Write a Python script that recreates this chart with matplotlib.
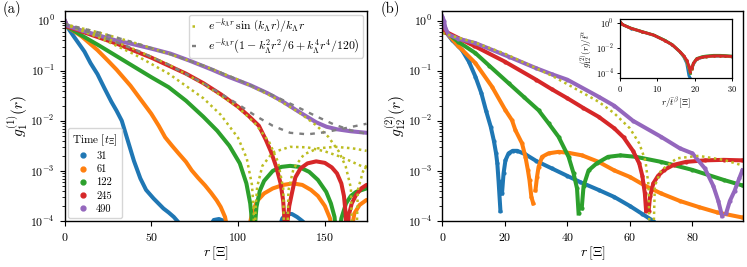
import numpy as np
import matplotlib.pyplot as plt
from matplotlib.lines import Line2D

plt.rcParams['font.family'] = 'serif'
plt.rcParams['font.serif'] = ['cmr10']
plt.rcParams['mathtext.fontset'] = 'cm'
plt.rcParams['axes.formatter.use_mathtext'] = True

times = [31, 61, 122, 245, 490]
colors = ['#1f77b4', '#ff7f0e', '#2ca02c', '#d62728', '#9467bd']
nan = np.nan

# ---- panel (a): g1 data, values are log10 g ----
a_r_31 = [0, 1.5, 5, 11.5, 15, 19, 23, 27, 30, 33, 36.5, 40, 43.7, 47, 51.3, 57, 60, 63, 65.5, 68,
          nan, 84, 86, 89, 92, 94, nan, 123, 125.5, 128, 131, 134, 137, 140]
a_lg_31 = [0.0, -0.12, -0.3, -0.62, -0.85, -1.07, -1.35, -1.62, -1.8, -2.0, -2.4, -2.8, -3.15, -3.38, -3.55, -3.75, -3.83, -3.92, -4.02, -4.2,
           nan, -4.1, -3.98, -3.96, -4.0, -4.1, nan, -4.2, -3.95, -3.86, -3.86, -3.92, -4.0, -4.1]
a_r_61 = [0, 1.5, 10, 19, 25, 30, 38, 44, 50, 54.3, 58, 62, 65.7, 70, 73.3, 77, 81, 84.5, 87.7, 90, 92.5, 93.8, 94.5,
          105.5, 106.3, 108, 111, 115, 120, 126, 131.6, 137, 142, 146, 150, 153, 154.5, 156, 160, 164.5, 165.3, 167, 170, 174]
a_lg_61 = [0.0, -0.12, -0.32, -0.59, -0.8, -0.98, -1.3, -1.58, -1.86, -2.1, -2.33, -2.5, -2.65, -2.82, -2.99, -3.14, -3.29, -3.44, -3.59, -3.72, -3.92, -4.15, -5,
           -5, -4.15, -3.85, -3.6, -3.45, -3.35, -3.28, -3.25, -3.28, -3.38, -3.5, -3.7, -3.95, -4.3, -5, -5, -5, -4.2, -3.85, -3.68, -3.58]
a_r_122 = [0, 1.5, 10, 20, 30, 40, 50, 60, 70, 80, 88, 95, 101, 104.8, 107, 108.3, 109, 109.7, 110.6, 112.5, 115, 120, 125, 130,
           135, 141, 146, 150.8, 153.5, 155.6, 156.5, 157.2, 158, 159.5, 162.2, 165, 168, 174]
a_lg_122 = [0.0, -0.12, -0.3, -0.5, -0.71, -0.92, -1.13, -1.33, -1.6, -1.92, -2.2, -2.5, -2.85, -3.25, -3.65, -4.1, -5, -4.1, -3.72, -3.4, -3.2, -3.0, -2.92, -2.9,
            -2.92, -3.02, -3.18, -3.42, -3.65, -3.92, -4.3, -5, -4.3, -3.95, -3.65, -3.5, -3.42, -3.35]
a_r_245 = [0, 1.5, 10, 20, 30, 40, 50, 60, 70, 80, 90, 100, 106, 112, 116, 119, 122, 124.5, 126, 127, 127.5, 128.2, 129.5, 131, 133,
           136, 140, 145, 150, 154, 157, 159.5, 161, 162, 162.7, 163.7, 165.5, 168, 171, 174]
a_lg_245 = [0.0, -0.12, -0.22, -0.34, -0.46, -0.6, -0.74, -0.9, -1.06, -1.25, -1.47, -1.72, -1.9, -2.1, -2.38, -2.62, -2.92, -3.25, -3.6, -4.1, -5, -4.1, -3.7, -3.45, -3.13,
            -2.95, -2.85, -2.81, -2.84, -2.93, -3.05, -3.25, -3.5, -3.85, -5, -3.9, -3.65, -3.48, -3.35, -3.28]
a_r_490 = [0, 1.5, 4, 10, 19, 30, 38, 50, 61, 72, 85, 95, 107, 117, 125, 135, 145, 151, 157, 165, 174]
a_lg_490 = [0.02, -0.1, -0.13, -0.2, -0.29, -0.4, -0.46, -0.56, -0.66, -0.8, -0.98, -1.13, -1.29, -1.45, -1.6, -1.82, -2.03, -2.12, -2.17, -2.21, -2.24]

# sinc fits (dotted) for 122, 245, 490
fit_r_122 = [0, 20, 40, 60, 80, 90, 100, 105, 108, 109, 109.5, 110, 111, 114, 120, 130, 140, 150, 160, 174]
fit_lg_122 = [-0.07, -0.34, -0.67, -1.06, -1.55, -1.88, -2.34, -2.75, -3.28, -3.77, -6, -3.78, -3.32, -2.9, -2.63, -2.52, -2.53, -2.61, -2.73, -2.95]
fit_r_245 = [0, 20, 40, 60, 80, 100, 110, 118, 123, 126, 127.5, 129, 132, 138, 146, 156, 166, 174]
fit_lg_245 = [-0.07, -0.3, -0.57, -0.88, -1.26, -1.73, -2.06, -2.43, -2.82, -3.34, -6, -3.39, -2.95, -2.67, -2.55, -2.52, -2.55, -2.6]
fit_r_490 = [0, 20, 40, 60, 80, 100, 120, 135, 145, 152, 158, 162, 165, 167, 169, 172, 174]
fit_lg_490 = [-0.07, -0.24, -0.44, -0.66, -0.9, -1.18, -1.52, -1.83, -2.09, -2.32, -2.61, -2.91, -3.34, -6, -3.38, -3.01, -2.89]
# polynomial fits (dashed) for 245, 490
poly_r_245 = [0, 20, 40, 60, 80, 100, 110, 120, 130, 140, 150, 160, 174]
poly_lg_245 = [-0.07, -0.3, -0.57, -0.88, -1.25, -1.67, -1.9, -2.1, -2.24, -2.27, -2.23, -2.16, -2.06]
poly_r_490 = [0, 20, 40, 60, 80, 100, 120, 135, 145, 155, 165, 174]
poly_lg_490 = [-0.07, -0.24, -0.44, -0.66, -0.9, -1.18, -1.49, -1.74, -1.91, -2.07, -2.19, -2.26]

# ---- panel (b): g12 data ----
b_r_31 = [0, 1, 3, 6.3, 8.5, 10.6, 12.5, 14.0, 15.5, 16.5, 17.2, 17.6, 18.0, 18.6, nan,
          19.1, 19.6, 20.2, 21.2, 22.5, 24, 26.6, 30, 35, 40, 44, 50, 55, 60, 64, 67.5, 69]
b_lg_31 = [-0.05, -0.22, -0.38, -0.59, -0.82, -1.12, -1.45, -1.8, -2.12, -2.4, -2.65, -2.85, -3.2, -3.8, nan,
           -3.45, -3.05, -2.79, -2.65, -2.6, -2.6, -2.67, -2.8, -2.95, -3.1, -3.22, -3.38, -3.52, -3.7, -3.86, -4.0, -4.1]
b_r_61 = [0, 1, 5, 10.6, 15.9, 20.2, 22.3, 23.4, 25.5, 26.6, 27.4, 27.9, 28.5, 29.1, nan,
          29.8, 30.3, 30.8, 31.9, 34, 37.2, 40.4, 44.7, 50, 55, 60, 65, 70, 76, 82, 88, 96]
b_lg_61 = [-0.05, -0.22, -0.5, -0.85, -1.32, -1.79, -1.99, -2.19, -2.45, -2.72, -2.99, -3.19, -3.52, -3.65, nan,
           -3.39, -3.12, -2.92, -2.72, -2.65, -2.62, -2.64, -2.69, -2.82, -2.99, -3.12, -3.3, -3.45, -3.6, -3.72, -3.83, -3.93]
b_r_122 = [0, 1, 5, 10.6, 15, 21.2, 26, 30.8, 34, 37.2, 40.4, 42, 43.1, 43.6, nan,
           44.6, 45.2, 46.8, 49.4, 53, 57, 62, 70, 80, 90, 96]
b_lg_122 = [-0.05, -0.22, -0.42, -0.65, -0.9, -1.25, -1.52, -1.79, -2.05, -2.32, -2.72, -3.05, -3.35, -3.85, nan,
            -3.75, -3.3, -2.99, -2.85, -2.72, -2.69, -2.72, -2.82, -2.98, -3.18, -3.29]
b_r_245 = [0, 1, 10, 20, 30, 35, 40, 45, 50, 55, 58, 61, 63, 64, 64.8, 65.2, nan,
           66.0, 66.5, 67.5, 69, 71, 74, 78, 84, 90, 96]
b_lg_245 = [-0.05, -0.22, -0.5, -0.82, -1.18, -1.37, -1.55, -1.74, -1.92, -2.15, -2.33, -2.6, -2.85, -3.1, -3.45, -3.8, nan,
            -3.8, -3.5, -3.25, -3.1, -2.98, -2.88, -2.82, -2.79, -2.78, -2.79]
b_r_490 = [0, 0.5, 1, 2, 5, 10.6, 21.2, 30, 35, 40, 50, 55, 61, 70, 76, 80, 84, 86.7, 88.3, 89.5, nan,
           90.8, 92, 93.5, 95, 96]
b_lg_490 = [0.08, 0.0, -0.15, -0.28, -0.36, -0.45, -0.72, -0.95, -1.07, -1.18, -1.52, -1.7, -2.0, -2.32, -2.55, -2.65, -2.95, -3.3, -3.6, -3.9, nan,
            -3.85, -3.6, -3.4, -3.15, -2.99]
bfit_r = [0, 10, 20, 30, 35, 40, 50, 55, 60, 63, 65, 66, 66.8, 68, 70, 75, 82, 90, 96]
bfit_lg = [-0.25, -0.43, -0.66, -0.95, -1.1, -1.27, -1.62, -1.85, -2.15, -2.45, -2.8, -3.3, -6, -3.3, -2.99, -2.75, -2.7, -2.78, -2.89]

# ---- inset: rescaled g12 ----
ins_x = [0, 0.5, 1, 3, 6, 9, 12, 14, 16, 17, 17.8, 18.4, 18.8, nan, 19.2, 19.6, 20.5, 22, 23.1, 25, 26.7, 28, 30]
ins_lg_31 = [0.08, -0.1, -0.2, -0.47, -0.74, -1.0, -1.42, -1.78, -2.32, -2.7, -3.2, -4.2, -4.4, nan, -3.7, -3.3, -2.9, -2.75, -2.7, -2.66, -2.65, -2.66, -2.7]
ins_lg_61 = [0.08, -0.1, -0.2, -0.46, -0.73, -0.99, -1.41, -1.76, -2.3, -2.65, -3.05, -3.6, -4.0, nan, -3.65, -3.25, -2.87, -2.73, -2.68, -2.63, -2.63, -2.64, -2.68]
ins_lg_122 = [0.08, -0.1, -0.19, -0.44, -0.71, -0.97, -1.39, -1.74, -2.28, -2.62, -3.0, -3.5, -4.0, nan, -3.6, -3.2, -2.83, -2.68, -2.63, -2.58, -2.58, -2.6, -2.64]
ins_lg_245 = [0.08, -0.1, -0.2, -0.45, -0.72, -0.98, -1.42, -1.75, -2.29, -2.6, -2.95, -3.4, -3.9, nan, -3.6, -3.21, -2.85, -2.72, -2.67, -2.62, -2.62, -2.63, -2.67]


def val(lg):
    return 10.0 ** np.array(lg, dtype=float)


fig = plt.figure(figsize=(7.47, 2.67), dpi=100)
ax1 = fig.add_axes([64.5 / 747, 46 / 267, 302 / 747, 210 / 267])
ax2 = fig.add_axes([442.3 / 747, 46 / 267, 301 / 747, 210 / 267])
axin = fig.add_axes([620 / 747, (267 - 77.7) / 267, 112.3 / 747, 58.7 / 267])

lw_data = 2.9
a_sets = [(a_r_31, a_lg_31), (a_r_61, a_lg_61), (a_r_122, a_lg_122), (a_r_245, a_lg_245), (a_r_490, a_lg_490)]
for (r, lg), c in zip(a_sets, colors):
    ax1.plot(r, val(lg), color=c, lw=lw_data, solid_capstyle='round')

olive = '#bcbd22'
gray = '#7f7f7f'
dot = (0, (1, 1.4))
dash = (0, (2, 2.6))
for r, lg in [(fit_r_122, fit_lg_122), (fit_r_245, fit_lg_245), (fit_r_490, fit_lg_490)]:
    ax1.plot(r, val(lg), color=olive, lw=1.8, ls=dot)
for r, lg in [(poly_r_245, poly_lg_245), (poly_r_490, poly_lg_490)]:
    ax1.plot(r, val(lg), color=gray, lw=1.7, ls=dash)

b_sets = [(b_r_31, b_lg_31), (b_r_61, b_lg_61), (b_r_122, b_lg_122), (b_r_245, b_lg_245), (b_r_490, b_lg_490)]
for (r, lg), c in zip(b_sets, colors):
    ax2.plot(r, val(lg), color=c, lw=lw_data, marker='o', ms=3, mew=0)
ax2.plot(bfit_r, val(bfit_lg), color=olive, lw=1.8, ls=dot)

for lg, c in zip([ins_lg_31, ins_lg_61, ins_lg_122, ins_lg_245], colors):
    axin.plot(ins_x, val(lg), color=c, lw=2.0, marker='o', ms=1.8, mew=0)

for ax, xmax in [(ax1, 174), (ax2, 96.3)]:
    ax.set_yscale('log')
    ax.set_ylim(1e-4, 1.55)
    ax.set_xlim(0, xmax)
    ax.tick_params(labelsize=8.5, length=3.5, width=0.8)
    ax.tick_params(which='minor', length=2, width=0.6)
    ax.set_xlabel(r'$r\,[\Xi]$', fontsize=10, labelpad=1)
    for s in ax.spines.values():
        s.set_linewidth(1.0)
ax1.set_xticks([0, 50, 100, 150])
ax2.set_xticks([0, 20, 40, 60, 80])
ax1.set_ylabel(r'$g_1^{(1)}(r)$', fontsize=11, labelpad=0)
ax2.set_ylabel(r'$g_{12}^{(2)}(r)$', fontsize=11, labelpad=0)

axin.set_yscale('log')
axin.set_xlim(0, 30)
axin.set_ylim(10 ** -4.35, 10 ** 0.29)
axin.set_xticks([0, 10, 20, 30])
axin.set_yticks([1, 1e-2, 1e-4])
axin.tick_params(labelsize=6, length=2.5, width=0.7, pad=2)
axin.tick_params(which='minor', length=1.5, width=0.5)
axin.set_xlabel(r'$r/\bar{t}^{\beta}\,[\Xi]$', fontsize=6.5, labelpad=1)
axin.set_ylabel(r'$g_{12}^{(2)}(r)/\bar{t}^{\alpha}$', fontsize=6.5, labelpad=1)
for s in axin.spines.values():
    s.set_linewidth(0.9)

handles = [Line2D([], [], color=c, marker='o', ls='', ms=3.5) for c in colors]
leg1 = ax1.legend(handles, [str(t) for t in times], title=r'Time $[t_\Xi]$', loc='lower left',
                  fontsize=7.5, title_fontsize=8, handlelength=1.0, handletextpad=0.8,
                  labelspacing=0.35, borderaxespad=0.3, borderpad=0.4)
ax1.add_artist(leg1)
fit_handles = [Line2D([], [], color=olive, lw=1.8, ls=dot), Line2D([], [], color=gray, lw=1.7, ls=dash)]
fit_labels = [r'$e^{-k_\Lambda r}\,\sin\,\left(k_\Lambda r\right)/k_\Lambda r$',
              r'$e^{-k_\Lambda r}\left(1-k_\Lambda^2 r^2/6+k_\Lambda^4 r^4/120\right)$']
ax1.legend(fit_handles, fit_labels, loc='upper right', fontsize=8.5, handlelength=0.4,
           handletextpad=1.0, borderaxespad=0.3, labelspacing=0.1, borderpad=0.25)

fig.text(3 / 747, 1 - 9 / 267, '(a)', fontsize=10.5, va='center')
fig.text(381 / 747, 1 - 9 / 267, '(b)', fontsize=10.5, va='center')

fig.savefig('out.png', dpi=100)
